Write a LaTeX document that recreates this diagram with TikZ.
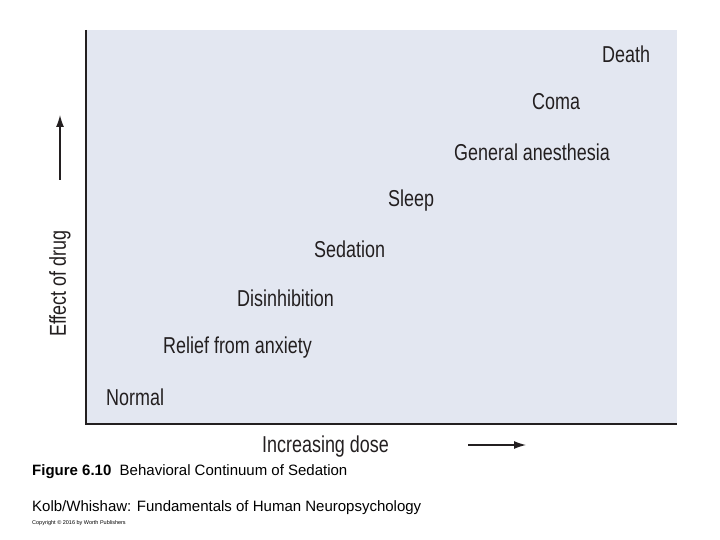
\documentclass[tikz,border=0pt]{standalone}
\usepackage{fontspec}
\usetikzlibrary{arrows.meta}
\setmainfont{Liberation Sans}
\newfontfamily\cond[FakeStretch=0.78]{Liberation Sans}
\definecolor{boxfill}{HTML}{E3E7F1}
\definecolor{ink}{HTML}{231F20}
\begin{document}
\begin{tikzpicture}[x=1pt,y=-1pt,
  lbl/.style={anchor=west,inner sep=0,font=\cond\fontsize{23}{26}\selectfont,text=ink},
  captxt/.style={anchor=west,inner sep=0,font=\fontsize{15}{17}\selectfont}]
\useasboundingbox (0,0) rectangle (720,540);
\fill[boxfill] (86,30) rectangle (677,424);
\draw[ink,line width=2pt] (86,30) -- (86,424) -- (677,424);
\node[lbl] (death) at (602,54) {Death};
\node[lbl] (coma) at (532,102) {Coma};
\node[lbl] (gen) at (454,152) {General anesthesia};
\node[lbl] (sleep) at (388,201) {Sleep};
\node[lbl] (sed) at (314,249) {Sedation};
\node[lbl] (dis) at (237,298) {Disinhibition};
\node[lbl] (rel) at (163,348) {Relief from anxiety};
\node[lbl] (norm) at (106,397) {Normal};
\node[lbl,rotate=90] (eff) at (60,337) {Effect of drug};
\coordinate (ya) at (60,180);
\coordinate (yb) at (60,115);
\draw[ink,line width=1.2pt,-{Latex[length=12pt,width=8pt]}] (ya) -- (yb);
\node[lbl] (inc) at (262,447) {Increasing dose};
\coordinate (xa) at (468,445);
\coordinate (xb) at (526,445);
\draw[ink,line width=1.2pt,-{Latex[length=12pt,width=8pt]}] (xa) -- (xb);
\node[captxt] (fig) at (32,472) {\textbf{Figure 6.10}\ \ Behavioral Continuum of Sedation};
\node[captxt] (kolb) at (32,508) {Kolb/Whishaw: Fundamentals of Human Neuropsychology};
\node[anchor=west,inner sep=0,font=\fontsize{5.5}{6}\selectfont] (copy) at (32,523) {Copyright © 2016 by Worth Publishers};
\end{tikzpicture}
\end{document}
